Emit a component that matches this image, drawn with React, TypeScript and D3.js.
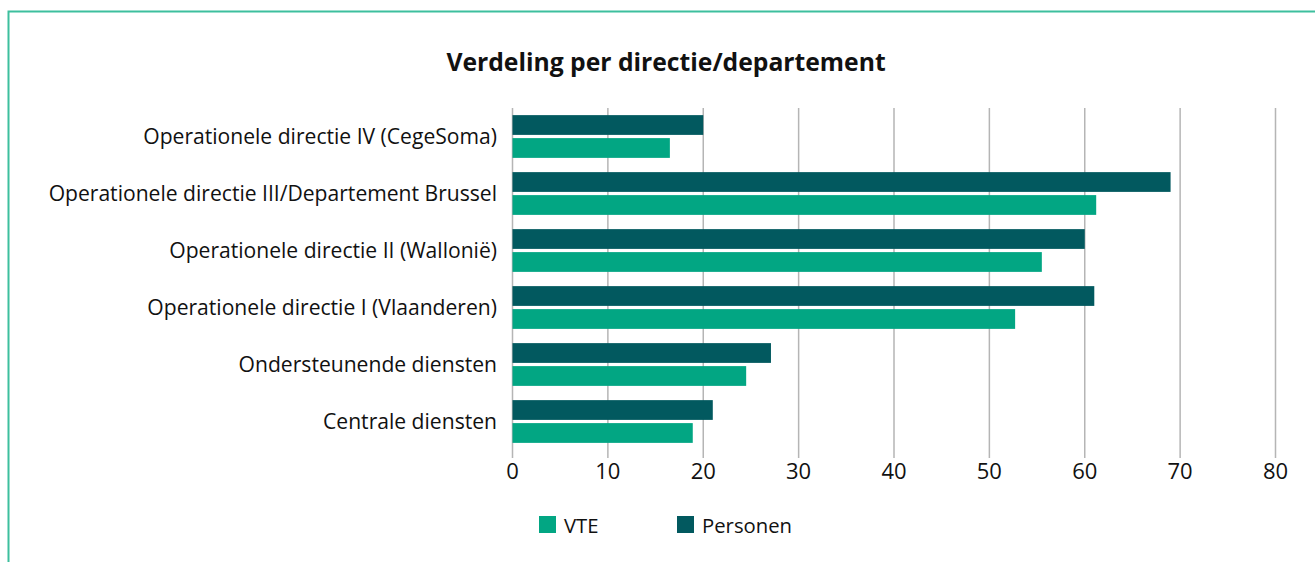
import React from "react";
import * as d3 from "d3";

const categories = [
  "Operationele directie IV (CegeSoma)",
  "Operationele directie III/Departement Brussel",
  "Operationele directie II (Wallonië)",
  "Operationele directie I (Vlaanderen)",
  "Ondersteunende diensten",
  "Centrale diensten",
];
const personen = [20.0, 69.0, 60.0, 61.0, 27.1, 21.0];
const vte = [16.5, 61.2, 55.5, 52.7, 24.5, 18.9];
const xTicks = [0, 10, 20, 30, 40, 50, 60, 70, 80];
const seriesNames = ["Personen", "VTE"];
const legendNames = ["VTE", "Personen"];

const COLORS: Record<string, string> = { VTE: "#02a683", Personen: "#02595f" };
const FONT = "'Open Sans', 'Noto Sans', sans-serif";

export default function App() {
  const W = 1315, H = 562;
  const x = d3.scaleLinear().domain([0, 80]).range([512.5, 1275.5]);
  const y = d3.scaleBand<string>().domain(categories).range([108, 450]).paddingInner(0.25).paddingOuter(0.125);
  const ys = d3.scaleBand<string>().domain(seriesNames).range([0, y.bandwidth()]).paddingInner(0.14);
  const values: Record<string, number[]> = { Personen: personen, VTE: vte };

  return (
    <svg width={W} height={H} style={{ position: "absolute", left: 0, top: 0, background: "#fff" }}>
      <rect x={8.5} y={11.5} width={W + 10} height={H + 10} fill="#fff" stroke="#3dbf9e" strokeWidth={2} />
      <text x={666} y={71} textAnchor="middle" fontFamily={FONT} fontWeight={700} fontSize={24.7} fill="#111">
        Verdeling per directie/departement
      </text>
      {xTicks.map((t) => (
        <g key={t}>
          <line x1={x(t)} x2={x(t)} y1={108} y2={458} stroke="#b5b5b5" strokeWidth={1.5} />
          <text x={x(t)} y={478.5} textAnchor="middle" fontFamily={FONT} fontSize={22} fill="#111">{t}</text>
        </g>
      ))}
      {categories.map((c, i) => (
        <g key={c}>
          {seriesNames.map((s) => (
            <rect key={s} x={x(0)} y={(y(c) as number) + (ys(s) as number)} width={x(values[s][i]) - x(0)} height={ys.bandwidth()} fill={COLORS[s]} />
          ))}
          <text x={497} y={(y(c) as number) + y.bandwidth() / 2 + 7.5} textAnchor="end" fontFamily={FONT} fontSize={21.1} fill="#111">{c}</text>
        </g>
      ))}
      {legendNames.map((s, i) => {
        const lx = i === 0 ? 539 : 677;
        return (
          <g key={s}>
            <rect x={lx} y={516} width={17} height={17} fill={COLORS[s]} />
            <text x={lx + 25} y={532.5} fontFamily={FONT} fontSize={20.3} fill="#111">{s}</text>
          </g>
        );
      })}
    </svg>
  );
}
